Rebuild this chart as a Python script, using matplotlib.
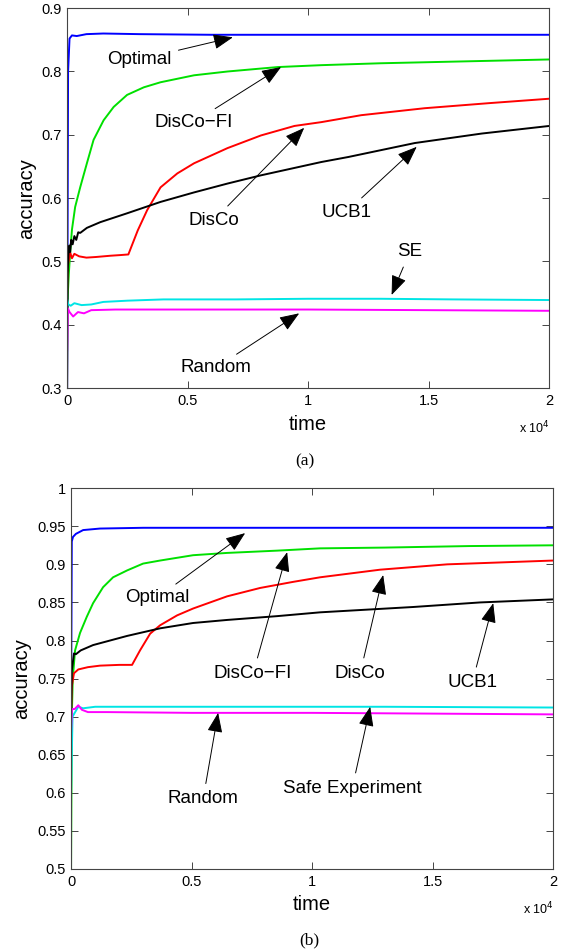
import matplotlib.pyplot as plt
from matplotlib.ticker import FuncFormatter

# ---- panel (a) ----
opt_a_t = [0, 40, 100, 200, 400, 800, 1500, 3000, 6000, 10000, 15000, 20000]
opt_a = [0.30, 0.80, 0.852, 0.857, 0.856, 0.859, 0.860, 0.859, 0.858, 0.858, 0.858, 0.858]

fi_a_t = [0, 30, 70, 125, 200, 333, 542, 820, 1097, 1514, 1930, 2486, 3180, 3875,
          5264, 6653, 8736, 10540, 13000, 16500, 20000]
fi_a = [0.42, 0.45, 0.48, 0.513, 0.55, 0.586, 0.617, 0.655, 0.692, 0.723, 0.744, 0.763,
        0.775, 0.783, 0.794, 0.800, 0.807, 0.810, 0.813, 0.816, 0.819]

disco_a_t = [0, 20, 60, 120, 200, 300, 500, 800, 1200, 1800, 2200, 2540, 2930, 3320,
             3875, 4570, 5264, 6653, 8040, 9430, 10540, 12200, 14830, 17500, 20000]
disco_a = [0.45, 0.49, 0.50, 0.515, 0.505, 0.512, 0.508, 0.506, 0.507, 0.509, 0.510,
           0.511, 0.549, 0.581, 0.617, 0.639, 0.655, 0.679, 0.699, 0.714, 0.720, 0.731,
           0.742, 0.750, 0.757]

ucb_a_t = [0, 20, 50, 90, 125, 170, 230, 300, 380, 460, 542, 820, 1375, 2486, 3875,
           5264, 6653, 8040, 10540, 11670, 14420, 17200, 20000]
ucb_a = [0.30, 0.48, 0.51, 0.525, 0.515, 0.534, 0.527, 0.540, 0.534, 0.546, 0.545,
         0.553, 0.562, 0.576, 0.594, 0.609, 0.623, 0.636, 0.657, 0.665, 0.687, 0.702,
         0.714]

se_a_t = [0, 50, 150, 300, 600, 1000, 1500, 2500, 4000, 7000, 10000, 13000, 16000, 20000]
se_a = [0.44, 0.432, 0.43, 0.434, 0.431, 0.432, 0.436, 0.438, 0.44, 0.44, 0.441, 0.441,
        0.44, 0.439]

rand_a_t = [0, 30, 100, 250, 450, 700, 1000, 2000, 5000, 10000, 15000, 20000]
rand_a = [0.36, 0.426, 0.42, 0.413, 0.42, 0.418, 0.423, 0.424, 0.424, 0.424, 0.423, 0.422]

# ---- panel (b) ----
opt_b_t = [0, 30, 80, 200, 500, 1200, 3000, 10000, 20000]
opt_b = [0.70, 0.93, 0.936, 0.940, 0.945, 0.947, 0.948, 0.948, 0.948]

fi_b_t = [0, 30, 70, 166, 373, 650, 913, 1328, 1743, 2323, 2987, 3693, 5062, 6472,
          8547, 10330, 13000, 16500, 20000]
fi_b = [0.50, 0.70, 0.75, 0.787, 0.81, 0.831, 0.849, 0.870, 0.883, 0.892, 0.901, 0.905,
        0.912, 0.915, 0.918, 0.921, 0.922, 0.924, 0.925]

disco_b_t = [0, 30, 120, 300, 700, 1200, 2000, 2530, 2860, 3280, 3693, 4398, 5062, 6472,
             7842, 9211, 10330, 12820, 15600, 20000]
disco_b = [0.70, 0.74, 0.757, 0.762, 0.765, 0.767, 0.768, 0.768, 0.787, 0.809, 0.82,
           0.833, 0.842, 0.858, 0.869, 0.877, 0.883, 0.893, 0.90, 0.905]

ucb_b_t = [0, 30, 120, 200, 400, 913, 2323, 3693, 5062, 6472, 8547, 10330, 14190, 16970,
           20000]
ucb_b = [0.70, 0.76, 0.783, 0.782, 0.787, 0.794, 0.806, 0.816, 0.823, 0.827, 0.832,
         0.837, 0.844, 0.85, 0.854]

se_b_t = [0, 60, 150, 300, 500, 1000, 3000, 8000, 13000, 20000]
se_b = [0.60, 0.70, 0.705, 0.713, 0.711, 0.713, 0.713, 0.713, 0.713, 0.712]

rand_b_t = [0, 40, 150, 300, 450, 700, 1500, 5000, 10000, 15000, 20000]
rand_b = [0.68, 0.71, 0.71, 0.715, 0.709, 0.706, 0.706, 0.705, 0.705, 0.704, 0.703]

# annotations: (label, text position, arrow head)
notes_a = [
    ('Optimal', (3000, 0.819), (6875, 0.854)),
    ('DisCo\u2212FI', (5250, 0.720), (8875, 0.807)),
    ('DisCo', (6083, 0.565), (9833, 0.711)),
    ('UCB1', (11583, 0.578), (14500, 0.681)),
    ('SE', (14208, 0.515), (13458, 0.447)),
    ('Random', (6167, 0.332), (9625, 0.418)),
]
notes_b = [
    ('Optimal', (3568, 0.856), (7220, 0.941)),
    ('DisCo\u2212FI', (7552, 0.757), (8963, 0.916)),
    ('DisCo', (11992, 0.757), (12946, 0.886)),
    ('UCB1', (16639, 0.745), (17510, 0.849)),
    ('Safe Experiment', (11660, 0.606), (12407, 0.713)),
    ('Random', (5477, 0.592), (6100, 0.705)),
]

plt.rcParams['font.family'] = ['Liberation Sans', 'DejaVu Sans']

fig = plt.figure(figsize=(5.64, 9.52), dpi=100)
ax_a = fig.add_axes([0.119, 0.5924, 0.855, 0.399])
ax_b = fig.add_axes([0.126, 0.0872, 0.855, 0.400])


def style(ax, ylim, yticks):
    ax.set_xlim(0, 20000)
    ax.set_ylim(*ylim)
    ax.set_xticks([0, 5000, 10000, 15000, 20000])
    ax.set_yticks(yticks)
    ax.xaxis.set_major_formatter(FuncFormatter(lambda v, p: '%g' % (v / 1e4)))
    ax.yaxis.set_major_formatter(FuncFormatter(lambda v, p: '%g' % round(v, 2)))
    ax.tick_params(direction='in', length=5, width=0.7, top=True, right=True,
                   labelsize=10.5, color='#444444', pad=4)
    for s in ax.spines.values():
        s.set_color('#444444')
        s.set_linewidth(0.8)
    ax.set_xlabel('time', fontsize=14.5, labelpad=5)
    ax.set_ylabel('accuracy', fontsize=14.5, labelpad=4)
    ax.text(1.0, -0.105, r'x 10$^{4}$', transform=ax.transAxes, fontsize=9,
            ha='right', va='center')


def draw(ax, series, notes):
    for t, v, c in series:
        ax.plot(t, v, color=c, lw=1.4)
    for label, txt, head in notes:
        ax.annotate(label, xy=head, xytext=txt, ha='center', va='center',
                    fontsize=13.5,
                    arrowprops=dict(arrowstyle='-|>,head_length=0.9,head_width=0.35',
                                    color='k', lw=0.7, shrinkA=3, shrinkB=0))


draw(ax_a, [(opt_a_t, opt_a, '#0000ff'), (fi_a_t, fi_a, '#00e000'),
            (disco_a_t, disco_a, '#ff0000'), (ucb_a_t, ucb_a, 'k'),
            (se_a_t, se_a, '#00e5e5'), (rand_a_t, rand_a, '#ff00ff')], notes_a)
draw(ax_b, [(opt_b_t, opt_b, '#0000ff'), (fi_b_t, fi_b, '#00e000'),
            (disco_b_t, disco_b, '#ff0000'), (ucb_b_t, ucb_b, 'k'),
            (se_b_t, se_b, '#00e5e5'), (rand_b_t, rand_b, '#ff00ff')], notes_b)

style(ax_a, (0.3, 0.9), [0.3, 0.4, 0.5, 0.6, 0.7, 0.8, 0.9])
style(ax_b, (0.5, 1.0), [0.5, 0.55, 0.6, 0.65, 0.7, 0.75, 0.8, 0.85, 0.9, 0.95, 1.0])

fig.text(0.541, 1 - 461 / 952, '(a)', family='Liberation Serif', fontsize=12.5,
         ha='center', va='center')
fig.text(0.548, 1 - 940 / 952, '(b)', family='Liberation Serif', fontsize=12.5,
         ha='center', va='center')

fig.savefig('out.png', dpi=100)
